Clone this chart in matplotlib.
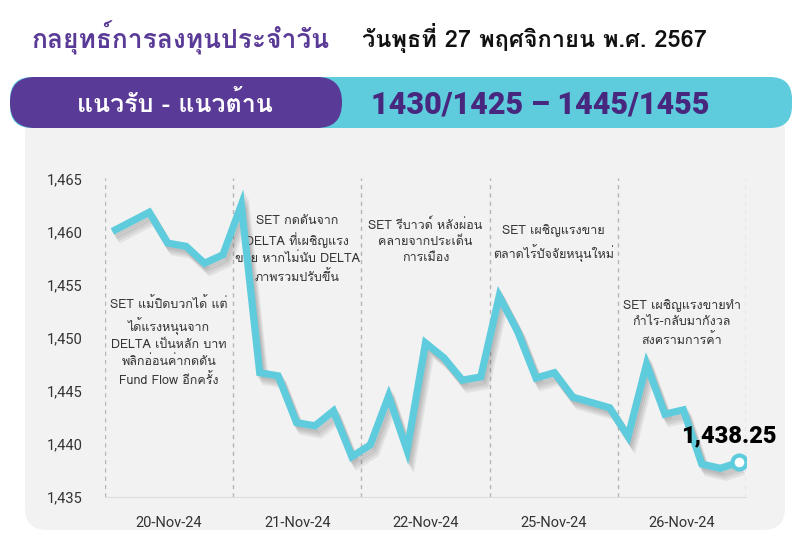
import matplotlib
matplotlib.use("Agg")
import matplotlib.pyplot as plt
import matplotlib.patheffects as pe
from matplotlib import font_manager
from matplotlib.ft2font import FT2Font
from matplotlib.patches import FancyBboxPatch
from matplotlib.transforms import IdentityTransform

# find an installed font that has Thai glyphs
def thai_font():
    seen = set()
    for f in font_manager.fontManager.ttflist:
        if f.name in seen:
            continue
        seen.add(f.name)
        try:
            if 0x0E01 in FT2Font(f.fname).get_charmap():
                return f.name
        except Exception:
            pass
    return None

TH = thai_font()
fams = [TH, 'DejaVu Sans'] if TH else ['DejaVu Sans']
plt.rcParams['font.family'] = fams
LAT = ['Roboto', 'DejaVu Sans']

# data
days = ['20-Nov-24', '21-Nov-24', '22-Nov-24', '25-Nov-24', '26-Nov-24']
set_index = [1460.0, 1460.9, 1461.8, 1458.9, 1458.6, 1457.0, 1457.8,
             1462.5, 1446.7, 1446.4, 1442.0, 1441.7, 1443.1, 1438.8,
             1439.9, 1444.5, 1439.4, 1449.5, 1448.1, 1446.0, 1446.3,
             1453.9, 1450.6, 1446.2, 1446.7, 1444.4, 1443.9, 1443.4,
             1440.7, 1447.5, 1442.8, 1443.2, 1438.1, 1437.7, 1438.25]
yticks = [1435, 1440, 1445, 1450, 1455, 1460, 1465]
notes = [
    "SET แม้ปิดบวกได้ แต่\nได้แรงหนุนจาก\nDELTA เป็นหลัก บาท\nพลิกอ่อนค่ากดดัน\nFund Flow อีกครั้ง",
    "SET กดดันจาก\nDELTA ที่เผชิญแรง\nขาย หากไม่นับ DELTA\nภาพรวมปรับขึ้น",
    "SET รีบาวด์ หลังผ่อน\nคลายจากประเด็น\nการเมือง",
    "SET เผชิญแรงขาย\nตลาดไร้ปัจจัยหนุนใหม่",
    "SET เผชิญแรงขายทำ\nกำไร-กลับมากังวล\nสงครามการค้า",
]
note_y = [1449.6, 1458.3, 1459.1, 1458.9, 1451.4]
title = "กลยุทธ์การลงทุนประจำวัน"
date_text = "วันพุธที่ 27 พฤศจิกายน พ.ศ. 2567"
band_label = "แนวรับ - แนวต้าน"
band_value = "1430/1425 – 1445/1455"

PURPLE = '#5A3A97'
CYAN = '#5ECCDC'
H = 549

fig = plt.figure(figsize=(7.97, 5.49), dpi=100)
fig.patch.set_facecolor('white')

def box(x0, ytop, x1, ybot, color, r, z):
    p = FancyBboxPatch((x0, H - ybot), x1 - x0, ybot - ytop,
                       boxstyle=f"round,pad=0,rounding_size={r}",
                       transform=IdentityTransform(), facecolor=color,
                       edgecolor='none', zorder=z)
    fig.add_artist(p)

box(25, 110, 785, 530, '#F2F2F2', 22, 0)
box(10, 77, 792, 128, CYAN, 22, 1)
box(10, 77, 342, 128, PURPLE, 25, 2)

fig.text(32 / 797, 1 - 38 / H, title, color=PURPLE, fontsize=19,
         fontweight='bold', va='center', ha='left')
fig.text(362 / 797, 1 - 38 / H, date_text, color='#111111', fontsize=17,
         fontweight='bold', va='center', ha='left')
fig.text(175 / 797, 1 - 104 / H, band_label, color='white', fontsize=18,
         fontweight='bold', va='center', ha='center', zorder=5)
fig.text(540 / 797, 1 - 105 / H, band_value, color='#48277F', fontsize=22,
         fontweight='heavy', va='center', ha='center', zorder=5, family=LAT)

ax = fig.add_axes([105 / 797, (H - 497) / H, 641 / 797, (497 - 178.3) / H])
ax.set_facecolor('none')
ax.set_zorder(3)
x = list(range(len(set_index)))
bounds = [-0.4 + 6.96 * k for k in range(6)]

for b in bounds:
    ax.axvline(b, color='#B5B5B5', lw=1, ls=(0, (3, 3)), zorder=1)

# soft drop shadow built from a few faint offset copies
shadow = [pe.SimpleLineShadow(offset=(o, -o * 1.6), shadow_color='#444444',
                              alpha=0.09) for o in (1.0, 2.0, 3.0, 4.0)]
ax.plot(x, set_index, color=CYAN, lw=5.2, solid_joinstyle='miter',
        solid_capstyle='butt', zorder=3, path_effects=shadow + [pe.Normal()])
ax.plot(x[-1], set_index[-1], 'o', ms=10, mfc='white', mec=CYAN, mew=3, zorder=4)
ax.annotate(f"{set_index[-1]:,.2f}", (x[-1], set_index[-1]), xytext=(-7, 19),
            textcoords='offset points', ha='center', va='center', fontsize=17,
            fontweight='heavy', color='black', zorder=5, family=LAT)

for k, (txt, yy) in enumerate(zip(notes, note_y)):
    ax.text((bounds[k] + bounds[k + 1]) / 2, yy, txt, ha='center', va='center',
            fontsize=9, color='#333333', linespacing=1.45, zorder=2)

ax.set_xlim(bounds[0], bounds[-1])
ax.set_ylim(1435, 1465)
ax.set_yticks(yticks)
ax.set_yticklabels([f"{v:,}" for v in yticks], family=LAT)
ax.set_xticks([(bounds[k] + bounds[k + 1]) / 2 for k in range(5)])
ax.set_xticklabels(days, family=LAT)
ax.tick_params(axis='y', length=0, pad=16, labelsize=10.5, labelcolor='#333333')
ax.tick_params(axis='x', length=0, pad=14, labelsize=10.5, labelcolor='#333333')
for s in ['top', 'right', 'left']:
    ax.spines[s].set_visible(False)
ax.spines['bottom'].set_color('#DDDDDD')

fig.savefig('out.png', dpi=100)
